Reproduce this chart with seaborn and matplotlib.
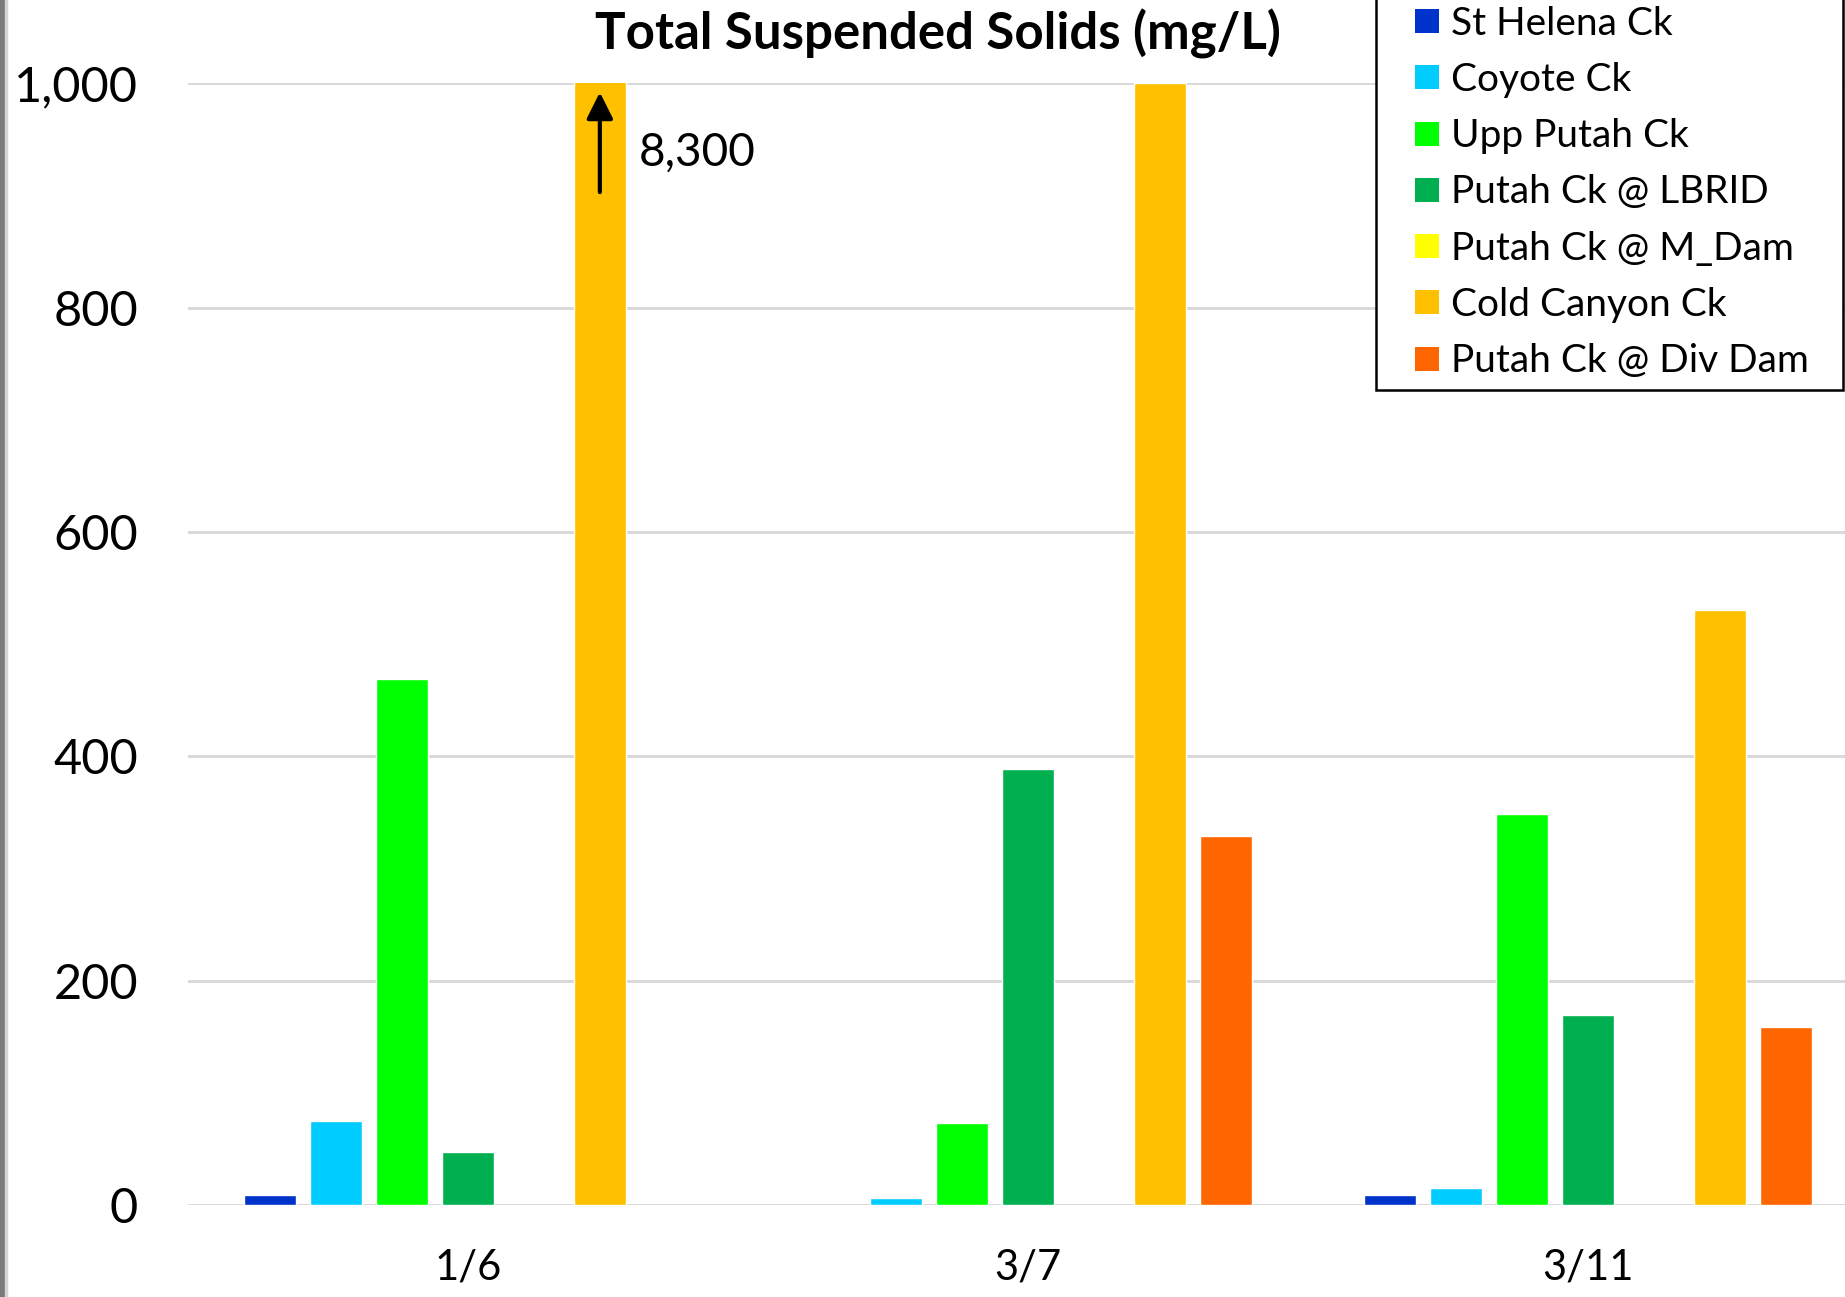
import numpy as np
import pandas as pd
import seaborn as sns
import matplotlib.pyplot as plt
from matplotlib.lines import Line2D
from matplotlib.patches import Rectangle

dates = ['1/6', '3/7', '3/11']
sites = ['St Helena Ck', 'Coyote Ck', 'Upp Putah Ck', 'Putah Ck @ LBRID',
         'Putah Ck @ M_Dam', 'Cold Canyon Ck', 'Putah Ck @ Div Dam']
colors = ['#0033CC', '#00CCFF', '#00FF00', '#00B050', '#FFFF00', '#FFC000', '#FF6600']

# TSS in mg/L, one value per date (nan = no sample)
st_helena = [9, np.nan, 9]
coyote = [75, 6, 15]
upp_putah = [469, 73, 349]
lbrid = [47, 389, 169]
m_dam = [np.nan, np.nan, np.nan]
cold_canyon = [8300, 1000, 530]   # 3/7 runs off the scale too
div_dam = [np.nan, 329, 159]

series = [st_helena, coyote, upp_putah, lbrid, m_dam, cold_canyon, div_dam]
rows = []
for site, vals in zip(sites, series):
    for d, v in zip(dates, vals):
        rows.append({'date': d, 'site': site, 'tss': v})
df = pd.DataFrame(rows)

sns.set_style('white')
plt.rcParams['font.family'] = ['Lato', 'DejaVu Sans']
plt.rcParams['text.color'] = 'black'
plt.rcParams['xtick.color'] = 'black'
plt.rcParams['ytick.color'] = 'black'

W, H = 1845, 1297
fig = plt.figure(figsize=(W / 100, H / 100), dpi=100)
ax = fig.add_axes([188 / W, 92 / H, (W - 188) / W, 1121.7 / H])

width = 0.824
sns.barplot(data=df, x='date', y='tss', hue='site', order=dates, hue_order=sites,
            palette=colors, width=width, gap=0.214, errorbar=None, saturation=1,
            legend=False, ax=ax)

ax.set_xlim(-0.5, -0.5 + (W - 188) / 560)
ax.set_ylim(0, 1000)
ax.set_yticks(range(0, 1001, 200))
ax.set_yticklabels([f'{v:,}' for v in range(0, 1001, 200)], fontsize=35)
ax.tick_params(axis='x', length=0, pad=31, labelsize=30)
ax.tick_params(axis='y', length=0, pad=36)
ax.set_xlabel('')
ax.set_ylabel('')
for s in ax.spines.values():
    s.set_visible(False)
ax.set_axisbelow(True)
ax.yaxis.grid(True, color='#D9D9D9', linewidth=2.1)
ax.xaxis.grid(False)

# arrow on the off-scale Cold Canyon bar
cold_x = 0 + (sites.index('Cold Canyon Ck') - 3) * width / 7
ax.annotate('', xy=(cold_x, 992), xytext=(cold_x, 903),
            arrowprops=dict(arrowstyle='-|>,head_length=0.4,head_width=0.2',
                            color='black', lw=3, mutation_scale=40,
                            shrinkA=0, shrinkB=0))
ax.text(0.305, 938, f'{cold_canyon[0]:,}', fontsize=33, ha='left', va='center')

fig.text(938 / W, 1 - 34 / H, 'Total Suspended Solids (mg/L)', fontsize=36.7,
         fontweight='bold', ha='center', va='center')

# legend box: white with black border, running off the top of the slide
fig.patches.append(Rectangle((1376 / W, (H - 390) / H), (1843 - 1376) / W, 0.4,
                             transform=fig.transFigure, facecolor='white',
                             edgecolor='black', linewidth=1.8, zorder=5))
handles = [Line2D([], [], ls='none', marker='s', markersize=17.3,
                  markerfacecolor=c, markeredgewidth=0) for c in colors]
leg = fig.legend(handles, sites, loc='lower left',
                 bbox_to_anchor=(1376 / W, (H - 390) / H), frameon=False,
                 fontsize=28, handlelength=2.06, handletextpad=-0.41,
                 borderpad=0.28, labelspacing=0.52, borderaxespad=0)
leg.set_zorder(6)

# strip of the slide photo on the left edge
fig.patches.append(Rectangle((0, 0), 5 / W, 1, transform=fig.transFigure,
                             color='#7a7a7a'))
fig.patches.append(Rectangle((5 / W, 0), 2 / W, 1, transform=fig.transFigure,
                             color='#d4d4d4'))

fig.savefig('out.png', dpi=100)
